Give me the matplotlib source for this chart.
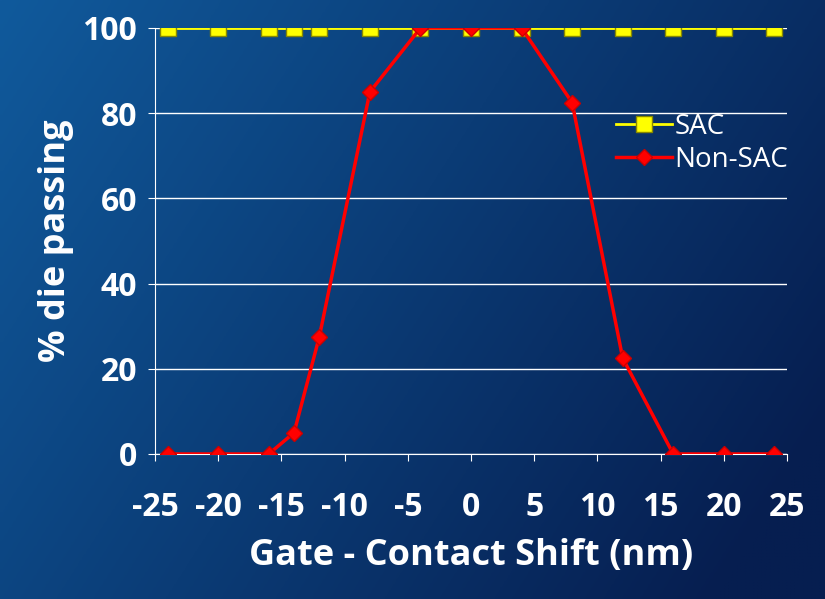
import numpy as np
import matplotlib
matplotlib.use("Agg")
import matplotlib.pyplot as plt
plt.rcParams['axes.unicode_minus'] = False

x = [-24, -20, -16, -14, -12, -8, -4, 0, 4, 8, 12, 16, 20, 24]
sac = [100]*14
nonsac = [0, 0, 0, 5, 27.5, 85, 100, 100, 100, 82.5, 22.5, 0, 0, 0]
xticks = [-25, -20, -15, -10, -5, 0, 5, 10, 15, 20, 25]
yticks = [0, 20, 40, 60, 80, 100]

fig = plt.figure(figsize=(8.25, 5.99), dpi=100)
bg = fig.add_axes([0, 0, 1, 1], zorder=-1)
gx, gy = np.meshgrid(np.linspace(0, 1, 200), np.linspace(0, 1, 200))
t = np.clip(0.75*gx + 0.35*gy, 0, 1)
c0 = np.array([0x10, 0x5a, 0x9c]) / 255
c1 = np.array([0x06, 0x1e, 0x50]) / 255
img = c0[None, None, :]*(1-t[..., None]) + c1[None, None, :]*t[..., None]
bg.imshow(img, aspect='auto', extent=[0, 1, 0, 1])
bg.axis('off')

ax = fig.add_axes([155/825, 1-454/599, 632/825, 426/599])
ax.set_facecolor('none')
ax.plot(x, sac, color='#ffff00', lw=2, marker='s', ms=11, mfc='#ffff00', mec='#888800', label='SAC', zorder=3)
ax.plot(x, nonsac, color='#ff0000', lw=2.5, marker='D', ms=8, mfc='#ff0000', mec='#cc0000', label='Non-SAC', zorder=4)
ax.set_xlim(-25, 25)
ax.set_ylim(0, 100)
ax.set_xticks(xticks)
ax.set_yticks(yticks)
ax.yaxis.grid(True, color='white', lw=1)
for s in ['top', 'right']:
    ax.spines[s].set_visible(False)
for s in ['left', 'bottom']:
    ax.spines[s].set_color('white')
ax.tick_params(colors='white', labelsize=23, length=5)
ax.tick_params(axis='x', pad=22)
ax.tick_params(axis='y', pad=8)
for lab in ax.get_xticklabels() + ax.get_yticklabels():
    lab.set_fontweight('bold')
    lab.set_family('Open Sans')
ax.set_xlabel('Gate - Contact Shift (nm)', color='white', fontsize=26, fontweight='bold', family='Open Sans', labelpad=10)
ax.set_ylabel('% die passing', color='white', fontsize=26, fontweight='bold', family='Open Sans', labelpad=6)
leg = ax.legend(loc='upper left', bbox_to_anchor=(0.69, 0.86), frameon=False,
                prop={'family': 'Open Sans', 'size': 20}, handlelength=2, handletextpad=0.1, labelspacing=0.2)
for tx in leg.get_texts():
    tx.set_color('white')
fig.savefig('out.png', dpi=100)
